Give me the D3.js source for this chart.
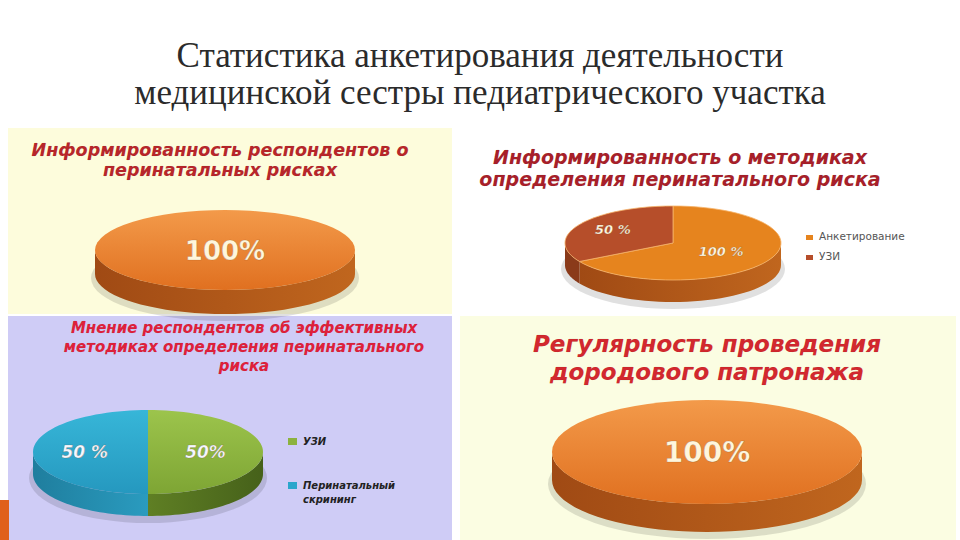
<!DOCTYPE html>
<html><head><meta charset="utf-8">
<script src="https://cdn.jsdelivr.net/npm/d3@7"></script>
<style>body{margin:0;background:#fff}svg{display:block}</style>
</head><body>
<svg id="slide" width="960" height="540"></svg>
<script>
// slide title
const titleLines = ["Статистика анкетирования деятельности", "медицинской сестры педиатрического участка"];

// chart 1
const c1Title = ["Информированность респондентов о", "перинатальных рисках"];
const c1Cats = ["Да"];
const c1Values = [100];
const c1Labels = ["100%"];

// chart 2
const c2Title = ["Информированность о методиках", "определения перинатального риска"];
const c2Cats = ["Анкетирование", "УЗИ"];
const c2Values = [100, 50];
const c2Labels = ["100 %", "50 %"];

// chart 3
const c3Title = ["Мнение респондентов об эффективных", "методиках определения перинатального", "риска"];
const c3Cats = ["УЗИ", "Перинатальный скрининг"];
const c3Values = [50, 50];
const c3Labels = ["50%", "50 %"];

// chart 4
const c4Title = ["Регулярность проведения", "дородового патронажа"];
const c4Cats = ["Да"];
const c4Values = [100];
const c4Labels = ["100%"];

const svg = d3.select("#slide");
const defs = svg.append("defs");

function grad(id, c1, c2, vertical) {
  const g = defs.append("linearGradient").attr("id", id)
    .attr("x1", 0).attr("y1", 0).attr("x2", vertical ? 0 : 1).attr("y2", vertical ? 1 : 0);
  g.append("stop").attr("offset", "0%").attr("stop-color", c1);
  g.append("stop").attr("offset", "100%").attr("stop-color", c2);
}
grad("orTop", "#f39a4a", "#e07020", true);
grad("orSide2", "#a04a14", "#c0661e", false);
grad("blTop", "#37b6d8", "#2598bf", true);
grad("blSide", "#1f7e9e", "#2a9bbf", false);
grad("grTop", "#9cc44c", "#7ea534", true);
grad("grSide", "#5f7f24", "#46611a", false);

// panel backgrounds
svg.append("rect").attr("x", 8).attr("y", 128).attr("width", 444).attr("height", 186).attr("fill", "#fdfcdc");
svg.append("rect").attr("x", 8).attr("y", 316).attr("width", 444).attr("height", 224).attr("fill", "#cfccf6");
svg.append("rect").attr("x", 460).attr("y", 316).attr("width", 496).attr("height", 224).attr("fill", "#fbfde2");
svg.append("rect").attr("x", 0).attr("y", 500).attr("width", 9).attr("height", 40).attr("fill", "#e0601c");

// slide title
svg.append("g").selectAll("text").data(titleLines).join("text")
  .attr("x", 480).attr("y", (d, i) => 67 + i * 37)
  .attr("text-anchor", "middle")
  .attr("font-family", "Liberation Serif, serif").attr("font-size", 35).attr("fill", "#2b2b2b")
  .text(d => d);

function chartTitle(lines, x, y0, dy, size, color) {
  svg.append("g").selectAll("text").data(lines).join("text")
    .attr("x", x).attr("y", (d, i) => y0 + i * dy)
    .attr("text-anchor", "middle")
    .attr("font-family", "DejaVu Sans, sans-serif").attr("font-weight", "bold").attr("font-style", "italic")
    .attr("font-size", size).attr("fill", color)
    .attr("stroke", "rgba(0,0,0,0.12)").attr("stroke-width", 0.4)
    .text(d => d);
}

// 3d pie: angles from d3.pie (clockwise from 12 o'clock)
function pie3d(o) {
  const pie = d3.pie().sort(null);
  const arcs = pie(o.values);
  const g = svg.append("g").attr("transform", `translate(${o.cx},${o.cy})`);
  const pt = (a, dz) => [o.rx * Math.sin(a), -o.ry * Math.cos(a) + dz];
  const sidePath = (a0, a1) => {
    const l = Math.max(a0, Math.PI / 2), h = Math.min(a1, 3 * Math.PI / 2);
    if (h <= l) return "";
    const top = d3.range(0, 41).map(i => pt(l + (h - l) * i / 40, 0));
    const bot = top.map(p => [p[0], p[1] + o.depth]).reverse();
    return "M" + top.concat(bot).map(p => p.join(",")).join("L") + "Z";
  };
  const topPath = (a0, a1) => {
    if (a1 - a0 >= 2 * Math.PI - 1e-6)
      return `M${-o.rx},0A${o.rx},${o.ry} 0 1,1 ${o.rx},0A${o.rx},${o.ry} 0 1,1 ${-o.rx},0Z`;
    const pts = d3.range(0, 61).map(i => pt(a0 + (a1 - a0) * i / 60, 0));
    return "M0,0L" + pts.map(p => p.join(",")).join("L") + "Z";
  };
  g.append("ellipse").attr("cx", 0).attr("cy", o.depth + 4).attr("rx", o.rx + 4).attr("ry", o.ry + 3)
    .attr("fill", "rgba(0,0,0,0.12)");
  arcs.forEach((d, i) => {
    g.append("path").attr("d", sidePath(d.startAngle, d.endAngle)).attr("fill", o.side[i]);
  });
  arcs.forEach((d, i) => {
    g.append("path").attr("d", topPath(d.startAngle, d.endAngle)).attr("fill", o.top[i])
      .attr("stroke", o.edge || "none").attr("stroke-width", 0.8);
  });
  arcs.forEach((d, i) => {
    const m = (d.startAngle + d.endAngle) / 2;
    const f = o.labelR != null ? o.labelR[i] : 0.5;
    const p = arcs.length === 1 ? [0, 0] : pt(m, 0).map(v => v * f);
    g.append("text").attr("x", p[0] + (o.dx ? o.dx[i] : 0)).attr("y", p[1] + o.labelDy)
      .attr("text-anchor", "middle")
      .attr("font-family", "DejaVu Sans, sans-serif").attr("font-weight", "bold")
      .attr("font-style", o.italic ? "italic" : "normal")
      .attr("font-size", o.labelSize).attr("fill", o.labelColor)
      .attr("stroke", "rgba(90,40,0,0.35)").attr("stroke-width", 0.6)
      .text(o.labels[i]);
  });
}

function legend(cats, colors, x, y, dy, opt) {
  const g = svg.append("g").attr("transform", `translate(${x},${y})`);
  cats.forEach((c, i) => {
    const lines = opt.wrap ? opt.wrap[i] : [c];
    g.append("rect").attr("x", 0).attr("y", i * dy - opt.box + 2).attr("width", opt.box).attr("height", opt.box - 2)
      .attr("fill", colors[i]);
    lines.forEach((l, j) => g.append("text").attr("x", opt.box + 6).attr("y", i * dy + j * opt.lh)
      .attr("font-family", "DejaVu Sans, sans-serif").attr("font-size", opt.size)
      .attr("font-style", opt.italic ? "italic" : "normal").attr("font-weight", opt.bold ? "bold" : "normal")
      .attr("fill", opt.color).text(l));
  });
}

// chart 1
chartTitle(c1Title, 220, 156, 20, 17.5, "#b8262a");
pie3d({cx: 225, cy: 250, rx: 130, ry: 40, depth: 24, values: c1Values, labels: c1Labels,
  top: ["url(#orTop)"], side: ["url(#orSide2)"], labelSize: 26, labelColor: "#fff6dc", labelDy: 10});

// chart 2
chartTitle(c2Title, 680, 164, 22, 19, "#a81f2a");
pie3d({cx: 673, cy: 243, rx: 108, ry: 37, depth: 22, values: c2Values, labels: c2Labels,
  top: ["#e6841e", "#b64e2a"], side: ["url(#orSide2)", "#8a3a1a"], edge: "#f6b46a",
  labelSize: 13, labelColor: "#fff7e0", labelDy: 5, italic: true, labelR: [0.45, 0.75], dx: [6, 10]});
legend(c2Cats, ["#e6841e", "#b64e2a"], 806, 240, 20, {box: 7, size: 10.5, color: "#555", lh: 12});

// chart 3
chartTitle(c3Title, 244, 333, 19, 15, "#e0203a");
pie3d({cx: 148, cy: 452, rx: 115, ry: 42, depth: 22, values: c3Values, labels: c3Labels,
  top: ["url(#grTop)", "url(#blTop)"], side: ["url(#grSide)", "url(#blSide)"],
  labelSize: 17, labelColor: "#f4f8ff", labelDy: 6, italic: true, labelR: [0.5, 0.55], dx: [0, 0]});
legend(c3Cats, ["#8cb23e", "#2aa6cc"], 288, 445, 44,
  {box: 9, size: 10, color: "#222", lh: 14, italic: true, bold: true, wrap: [["УЗИ"], ["Перинатальный", "скрининг"]]});

// chart 4
chartTitle(c4Title, 707, 352, 28, 23, "#d2282e");
pie3d({cx: 707, cy: 452, rx: 155, ry: 52, depth: 28, values: c4Values, labels: c4Labels,
  top: ["url(#orTop)"], side: ["url(#orSide2)"], labelSize: 28, labelColor: "#fff6dc", labelDy: 10});
</script>
</body></html>
